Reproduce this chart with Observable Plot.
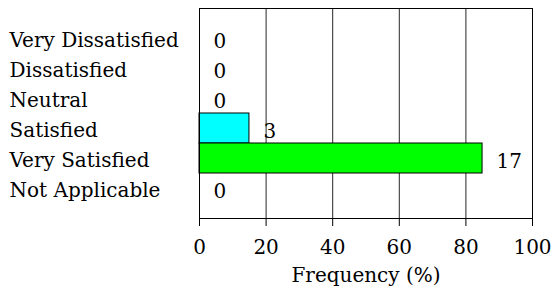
<!DOCTYPE html>
<html>
<head>
<meta charset="utf-8">
<script src="https://cdn.jsdelivr.net/npm/d3@7"></script>
<script src="https://cdn.jsdelivr.net/npm/@observablehq/plot@0.6"></script>
<style>
  html, body { margin: 0; padding: 0; background: #fff; }
  #chart svg, #chart svg text { font-family: "DejaVu Serif", serif !important; }
</style>
</head>
<body>
<div id="chart"></div>
<script>
const categories = ["Very Dissatisfied", "Dissatisfied", "Neutral", "Satisfied", "Very Satisfied", "Not Applicable"];
const percents = [0, 0, 0, 15, 85, 0];
const counts = [0, 0, 0, 3, 17, 0];
const barColors = ["#0000ff", "#ff00ff", "#ffff00", "#00ffff", "#00ff00", "#ff0000"];
const xTicks = [0, 20, 40, 60, 80, 100];
const xLabel = "Frequency (%)";

const data = categories.map((c, i) => ({category: c, pct: percents[i], n: counts[i], color: barColors[i]}));

const chart = Plot.plot({
  width: 552,
  height: 293,
  marginLeft: 199,
  marginRight: 20,
  marginTop: 8,
  marginBottom: 75,
  style: "font-family: 'DejaVu Serif', serif; font-size: 20px; color: #000; background: #fff;",
  x: {domain: [0, 100]},
  y: {domain: categories, paddingInner: 0, paddingOuter: 0.5},
  marks: [
    Plot.gridX(xTicks, {stroke: "#000", strokeOpacity: 0.85}),
    Plot.barX(data, {y: "category", x: "pct", fill: "color", stroke: "#000", strokeWidth: 1}),
    Plot.text(data, {y: "category", x: "pct", text: d => String(d.n), textAnchor: "start", dx: 14, dy: 3, fill: "#000", fontSize: 20}),
    Plot.frame({stroke: "#000"}),
    Plot.axisY({tickSize: 0, tickPadding: 190, textAnchor: "start", dy: 2, label: null, fontSize: 20}),
    Plot.axisX({ticks: xTicks, tickSize: 8, tickPadding: 13, label: xLabel, labelAnchor: "center", labelArrow: "none", labelOffset: 63, fontSize: 20})
  ]
});
document.getElementById("chart").appendChild(chart);
</script>
</body>
</html>
